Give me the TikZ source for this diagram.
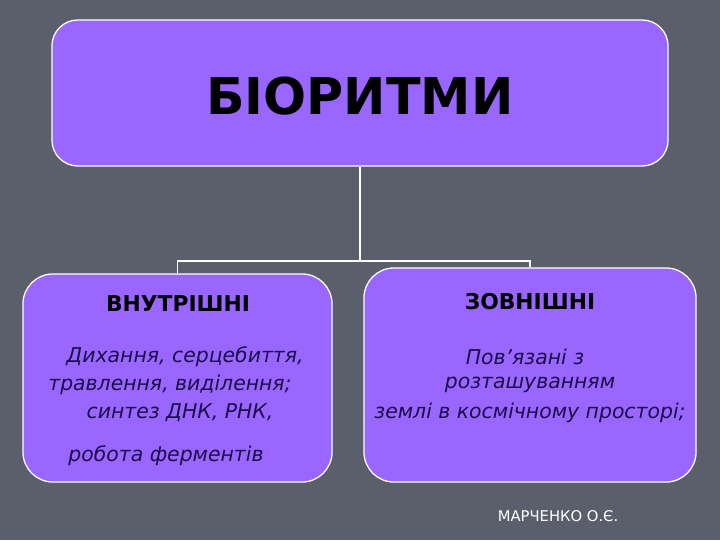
\documentclass[tikz,border=0pt]{standalone}
\usepackage{fontspec}
\setmainfont{DejaVu Sans}
\usepackage{tikz}

\definecolor{slate}{HTML}{5B5F6B}
\definecolor{lilac}{HTML}{9966FF}
\definecolor{ink}{HTML}{1C0C48}

\tikzset{
  box/.style={draw=white, line width=0.9pt, fill=lilac, inner sep=0pt},
  head/.style={font=\fontsize{15.5}{18}\selectfont\bfseries, text=black},
  item/.style={font=\fontsize{14.5}{17}\selectfont\itshape, text=ink},
  link/.style={draw=white, line width=1.3pt}
}

\begin{document}
\begin{tikzpicture}[x=0.025cm, y=-0.025cm]
\fill[slate] (0,0) rectangle (720,540);
\useasboundingbox (0,0) rectangle (720,540);

\node[box, rounded corners=0.65cm, minimum width=15.4cm, minimum height=3.65cm] at (360,93)(bio){};
\node[font=\fontsize{36}{40}\selectfont\bfseries, text=black] at (360,96)(biot){БІОРИТМИ};

\node[box, rounded corners=0.75cm, minimum width=7.725cm, minimum height=5.2cm] at (177.5,378)(inner){};
\node[box, rounded corners=0.75cm, minimum width=8.3cm, minimum height=5.35cm] at (530,375)(outer){};

\coordinate (split) at (360,261);
\draw[link] (bio.south) -- (split);
\draw[link] (split) -| (inner.north);
\draw[link] (split) -| (outer.north);

\node[head] at (178,304)(innert){ВНУТРІШНІ};
\node[item] at (185,357)(in1){Дихання, серцебиття,};
\node[item] at (170,385)(in2){травлення, виділення;};
\node[item] at (180,413)(in3){синтез ДНК, РНК,};
\node[item] at (166,456)(in4){робота ферментів};

\node[head] at (530,302)(outert){ЗОВНІШНІ};
\node[item] at (525,357)(out1){Пов’язані з};
\node[item] at (530,385)(out2){розташуванням};
\node[item] at (530,413)(out3){землі в космічному просторі;};

\node[font=\fontsize{10.5}{12}\selectfont, text=white] at (558,516)(author){МАРЧЕНКО О.Є.};
\end{tikzpicture}
\end{document}
